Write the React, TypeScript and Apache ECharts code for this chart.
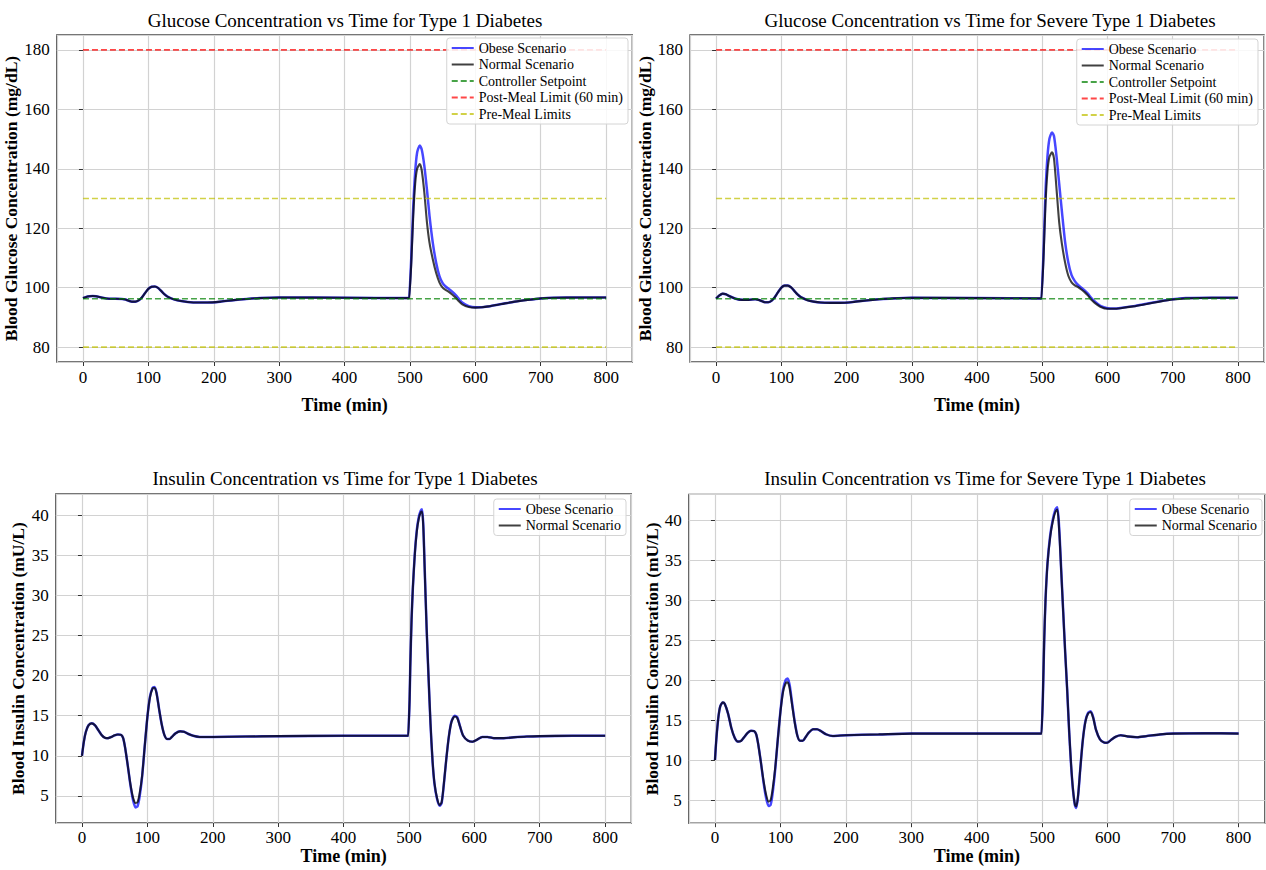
import React, { useEffect, useRef } from 'react';
import * as echarts from 'echarts';

// ---------- data ----------
const TIME_START = 0;
const TIME_END = 800;
const SETPOINT = 96.3;
const POST_MEAL_LIMIT = 180;
const PRE_MEAL_LOW = 80;
const PRE_MEAL_HIGH = 130;

const g1Time = [0, 5, 10, 15, 20, 30, 40, 50, 60, 65, 70, 75, 80, 85, 90, 95, 100, 105, 110, 115, 120, 125, 130, 140, 150, 160, 175, 190, 210, 230, 250, 270, 300, 400, 499, 500, 502, 505, 508, 511, 515, 518, 522, 526, 530, 535, 540, 545, 550, 555, 560, 565, 570, 575, 580, 590, 600, 610, 620, 640, 660, 680, 700, 720, 760, 800];
const g1Obese = [96.5, 96.9, 97.1, 97.2, 97.1, 96.6, 96.3, 96.3, 96.2, 96.0, 95.6, 95.3, 95.3, 95.7, 96.7, 98.2, 99.6, 100.3, 100.4, 99.9, 98.8, 97.7, 96.9, 96.0, 95.5, 95.2, 95.0, 95.0, 95.3, 95.8, 96.2, 96.5, 96.7, 96.6, 96.5, 96.5, 110, 127, 139, 145.5, 147.8, 146.5, 141, 133, 124, 115, 108.5, 104, 101.5, 100.3, 99.5, 98.6, 97.5, 96.2, 95.0, 93.8, 93.4, 93.4, 93.7, 94.5, 95.3, 95.9, 96.4, 96.6, 96.7, 96.7];
const g1Normal = [96.5, 96.9, 97.1, 97.2, 97.1, 96.6, 96.3, 96.3, 96.2, 96.0, 95.6, 95.3, 95.3, 95.7, 96.7, 98.2, 99.6, 100.3, 100.4, 99.9, 98.8, 97.7, 96.9, 96.0, 95.5, 95.2, 95.0, 95.0, 95.3, 95.8, 96.2, 96.5, 96.7, 96.6, 96.5, 96.5, 108, 124, 135, 140, 141.6, 139.5, 132, 122, 115, 109.5, 105, 101.8, 100.0, 99.2, 98.5, 97.6, 96.6, 95.4, 94.4, 93.5, 93.3, 93.4, 93.7, 94.5, 95.3, 95.9, 96.4, 96.6, 96.7, 96.7];

const g2Time = g1Time;
const g2Obese = [96.3, 97.4, 98.0, 97.8, 97.2, 96.3, 95.9, 95.9, 96.1, 95.9, 95.5, 95.1, 95.1, 95.6, 96.8, 98.5, 100.0, 100.7, 100.7, 100.1, 98.9, 97.7, 96.8, 95.8, 95.3, 95.0, 94.9, 94.9, 95.2, 95.7, 96.1, 96.4, 96.6, 96.5, 96.4, 96.4, 112, 132, 144, 150, 152.2, 151, 144, 135, 126, 115.5, 108.5, 104.2, 102.2, 100.9, 100.0, 99.1, 98.0, 96.6, 95.5, 93.8, 93.1, 93.0, 93.2, 93.8, 94.6, 95.4, 96.1, 96.5, 96.6, 96.6];
const g2Normal = [96.3, 97.4, 98.0, 97.8, 97.2, 96.3, 95.9, 95.9, 96.1, 95.9, 95.5, 95.1, 95.1, 95.6, 96.8, 98.5, 100.0, 100.7, 100.7, 100.1, 98.9, 97.7, 96.8, 95.8, 95.3, 95.0, 94.9, 94.9, 95.2, 95.7, 96.1, 96.4, 96.6, 96.5, 96.4, 96.4, 110, 128, 139, 144, 145.5, 143.5, 133, 122, 115, 108.5, 104, 101.8, 100.8, 100.2, 99.4, 98.5, 97.4, 96.0, 95.0, 93.5, 92.9, 92.9, 93.1, 93.7, 94.5, 95.3, 96.0, 96.4, 96.6, 96.6];

const i1Time = [0, 3, 6, 10, 15, 20, 25, 30, 35, 40, 45, 50, 55, 60, 63, 66, 70, 74, 78, 82, 85, 88, 92, 96, 100, 104, 108, 111, 114, 118, 122, 126, 130, 134, 138, 143, 150, 156, 162, 170, 180, 200, 250, 300, 400, 499, 500, 501, 502, 504, 506, 509, 512, 515, 518, 520, 522, 524, 527, 530, 533, 536, 539, 543, 547, 550, 553, 557, 561, 565, 570, 574, 578, 583, 590, 597, 604, 612, 620, 630, 645, 660, 680, 700, 750, 800];
const i1Normal = [10.0, 11.8, 13.0, 13.8, 14.05, 13.8, 13.2, 12.6, 12.25, 12.2, 12.35, 12.55, 12.65, 12.6, 12.2, 11.0, 8.8, 6.5, 4.8, 4.1, 4.2, 5.2, 7.5, 11.2, 14.8, 17.3, 18.4, 18.5, 17.8, 15.8, 13.9, 12.6, 12.1, 12.1, 12.4, 12.8, 13.05, 13.0, 12.75, 12.5, 12.35, 12.35, 12.4, 12.45, 12.5, 12.5, 12.5, 17.0, 21.0, 27.0, 31.0, 35.2, 38.0, 39.6, 40.4, 40.5, 38.5, 33.5, 26.0, 19.8, 14.0, 9.5, 6.6, 4.7, 3.85, 4.2, 6.2, 9.5, 12.4, 14.2, 14.9, 14.7, 13.7, 12.5, 11.9, 11.75, 12.0, 12.35, 12.35, 12.2, 12.2, 12.3, 12.4, 12.45, 12.5, 12.5];
const i1Obese = [10.0, 11.8, 13.0, 13.8, 14.05, 13.8, 13.2, 12.6, 12.25, 12.2, 12.35, 12.55, 12.65, 12.6, 12.2, 11.0, 8.8, 6.4, 4.5, 3.55, 3.7, 4.8, 7.4, 11.2, 14.8, 17.4, 18.5, 18.6, 17.9, 15.8, 13.9, 12.6, 12.1, 12.1, 12.4, 12.8, 13.05, 13.0, 12.75, 12.5, 12.35, 12.35, 12.4, 12.45, 12.5, 12.5, 12.5, 17.0, 21.0, 27.0, 31.0, 35.3, 38.2, 39.8, 40.6, 40.8, 38.7, 33.6, 26.0, 19.7, 13.9, 9.4, 6.5, 4.6, 3.75, 4.1, 6.1, 9.5, 12.4, 14.3, 15.0, 14.8, 13.7, 12.5, 11.9, 11.75, 12.0, 12.35, 12.35, 12.2, 12.2, 12.3, 12.4, 12.45, 12.5, 12.5];

const i2Time = [0, 2, 5, 8, 12, 15, 20, 25, 30, 35, 40, 45, 50, 55, 60, 63, 66, 70, 74, 78, 82, 85, 88, 92, 96, 100, 104, 108, 111, 114, 118, 122, 126, 130, 134, 138, 143, 150, 156, 162, 170, 180, 200, 250, 300, 400, 499, 500, 501, 503, 505, 508, 512, 516, 520, 523, 526, 529, 532, 535, 538, 541, 544, 547, 550, 552, 555, 558, 562, 566, 570, 574, 578, 582, 588, 594, 599, 605, 612, 620, 630, 645, 660, 680, 700, 750, 800];
const i2Normal = [10.0, 12.5, 15.2, 16.7, 17.2, 17.0, 15.8, 14.0, 12.8, 12.3, 12.4, 12.9, 13.4, 13.65, 13.6, 13.2, 12.0, 9.8, 7.5, 5.7, 4.8, 5.0, 6.3, 9.0, 12.6, 16.0, 18.5, 19.6, 19.7, 19.0, 16.8, 14.6, 13.0, 12.4, 12.4, 12.8, 13.4, 13.85, 13.85, 13.6, 13.2, 13.0, 13.1, 13.2, 13.3, 13.3, 13.3, 13.3, 18.0, 25.0, 30.0, 34.5, 37.8, 39.8, 41.0, 41.3, 38.5, 33.5, 28.5, 23.5, 18.9, 13.8, 9.5, 6.3, 4.4, 4.2, 5.8, 8.8, 12.5, 14.8, 15.8, 16.0, 15.2, 13.8, 12.6, 12.2, 12.15, 12.5, 12.9, 13.1, 12.95, 12.85, 13.0, 13.2, 13.3, 13.35, 13.3];
const i2Obese = [10.0, 12.5, 15.2, 16.7, 17.2, 17.0, 15.8, 14.0, 12.8, 12.3, 12.4, 12.9, 13.4, 13.65, 13.6, 13.2, 12.0, 9.8, 7.3, 5.3, 4.25, 4.4, 5.8, 8.8, 12.6, 16.1, 18.8, 20.0, 20.2, 19.4, 17.0, 14.7, 13.0, 12.4, 12.4, 12.8, 13.4, 13.85, 13.85, 13.6, 13.2, 13.0, 13.1, 13.2, 13.3, 13.3, 13.3, 13.3, 18.0, 25.0, 30.0, 34.6, 38.0, 40.0, 41.3, 41.6, 38.8, 33.7, 28.6, 23.5, 18.9, 13.7, 9.4, 6.2, 4.3, 4.0, 5.7, 8.8, 12.5, 14.9, 15.9, 16.1, 15.3, 13.8, 12.6, 12.2, 12.15, 12.5, 12.9, 13.1, 12.95, 12.85, 13.0, 13.2, 13.3, 13.35, 13.3];

const titles = [
  'Glucose Concentration vs Time for Type 1 Diabetes',
  'Glucose Concentration vs Time for Severe Type 1 Diabetes',
  'Insulin Concentration vs Time for Type 1 Diabetes',
  'Insulin Concentration vs Time for Severe Type 1 Diabetes',
];
const xName = 'Time (min)';
const glucoseYName = 'Blood Glucose Concentration (mg/dL)';
const insulinYName = 'Blood Insulin Concentration (mU/L)';
const OBESE = 'Obese Scenario';
const NORMAL = 'Normal Scenario';
const SETP = 'Controller Setpoint';
const POST = 'Post-Meal Limit (60 min)';
const PRE = 'Pre-Meal Limits';

// ---------- styles ----------
const FONT = '"Liberation Serif", "Times New Roman", Times, serif';
const BLUE = 'rgba(0,0,255,0.72)';
const BLACK = 'rgba(0,0,0,0.75)';
const GREEN = 'rgba(0,128,0,0.72)';
const RED = 'rgba(255,0,0,0.72)';
const YELLOW = 'rgba(191,191,0,0.72)';

const zip = (t: number[], v: number[]) => t.map((x, i) => [x, v[i]]);

type Panel = {
  title: string;
  grid: { left: number; top: number; width: number; height: number };
  yMin: number;
  yMax: number;
  ySplit: number;
  yName: string;
  t: number[];
  obese: number[];
  normal: number[];
  refs: boolean;
  titleX: number;
  titleY: number;
  legendRight: number;
  legendTop: number;
  xNameGap: number;
  yNameGap: number;
  xLabelMargin: number;
};

const panels: Panel[] = [
  {
    title: titles[0], grid: { left: 56.8, top: 35, width: 575.5, height: 327 },
    yMin: 75, yMax: 185, ySplit: 5, yName: glucoseYName,
    t: g1Time, obese: g1Obese, normal: g1Normal, refs: true,
    titleX: 345, titleY: 20, legendRight: 638, legendTop: 38, xNameGap: 34, yNameGap: 27, xLabelMargin: 7,
  },
  {
    title: titles[1], grid: { left: 690, top: 35, width: 574, height: 327 },
    yMin: 75, yMax: 185, ySplit: 5, yName: glucoseYName,
    t: g2Time, obese: g2Obese, normal: g2Normal, refs: true,
    titleX: 990, titleY: 20, legendRight: 8, legendTop: 39, xNameGap: 34, yNameGap: 26, xLabelMargin: 7,
  },
  {
    title: titles[2], grid: { left: 55.8, top: 494, width: 575.5, height: 329 },
    yMin: 1.6, yMax: 42.7, ySplit: 8, yName: insulinYName,
    t: i1Time, obese: i1Obese, normal: i1Normal, refs: false,
    titleX: 345, titleY: 478, legendRight: 640, legendTop: 499, xNameGap: 24, yNameGap: 29, xLabelMargin: 6,
  },
  {
    title: titles[3], grid: { left: 688.8, top: 494.4, width: 576, height: 328.8 },
    yMin: 2.1, yMax: 43.2, ySplit: 8, yName: insulinYName,
    t: i2Time, obese: i2Obese, normal: i2Normal, refs: false,
    titleX: 985, titleY: 478, legendRight: 4, legendTop: 499, xNameGap: 24, yNameGap: 27, xLabelMargin: 6,
  },
];

function buildOption() {
  const grid: any[] = [];
  const xAxis: any[] = [];
  const yAxis: any[] = [];
  const series: any[] = [];
  const legend: any[] = [];
  const graphic: any[] = [];

  const tickStyle = { show: true, length: 4, lineStyle: { color: '#333', width: 1 } };
  const splitStyle = { show: true, lineStyle: { color: '#d2d2d2', width: 1.2 } };

  panels.forEach((p, i) => {
    grid.push({
      left: p.grid.left, top: p.grid.top, width: p.grid.width, height: p.grid.height,
      show: true, borderColor: '#4a4a4a', borderWidth: 1.4, backgroundColor: 'transparent',
      containLabel: false,
    });
    xAxis.push({
      type: 'value', gridIndex: i, min: -40, max: 840, splitNumber: 8,
      name: xName, nameLocation: 'middle', nameGap: p.xNameGap,
      nameTextStyle: { fontFamily: FONT, fontSize: 18, fontWeight: 'bold', color: '#000' },
      axisLine: { show: false },
      axisTick: tickStyle,
      axisLabel: { fontFamily: FONT, fontSize: 17, color: '#000', margin: p.xLabelMargin, showMinLabel: false, showMaxLabel: false },
      splitLine: splitStyle,
    });
    yAxis.push({
      type: 'value', gridIndex: i, min: p.yMin, max: p.yMax, splitNumber: p.ySplit,
      name: p.yName, nameLocation: 'middle', nameGap: p.yNameGap, nameRotate: 90,
      nameTextStyle: { fontFamily: FONT, fontSize: 17.5, fontWeight: 'bold', color: '#000' },
      axisLine: { show: false },
      axisTick: tickStyle,
      axisLabel: { fontFamily: FONT, fontSize: 17, color: '#000', margin: 7, showMinLabel: false, showMaxLabel: false },
      splitLine: splitStyle,
    });

    const base = { type: 'line', xAxisIndex: i, yAxisIndex: i, symbol: 'none', showSymbol: false, animation: false, silent: true };
    series.push({ ...base, name: OBESE, data: zip(p.t, p.obese), smooth: 0.25, lineStyle: { color: BLUE, width: 2.5 }, itemStyle: { color: BLUE } });
    series.push({ ...base, name: NORMAL, data: zip(p.t, p.normal), smooth: 0.25, lineStyle: { color: BLACK, width: 2.1 }, itemStyle: { color: BLACK } });
    if (p.refs) {
      const dash = [6, 3];
      series.push({ ...base, name: SETP, data: [[TIME_START, SETPOINT], [TIME_END, SETPOINT]], lineStyle: { color: GREEN, width: 1.6, type: dash }, itemStyle: { color: GREEN } });
      series.push({ ...base, name: POST, data: [[TIME_START, POST_MEAL_LIMIT], [TIME_END, POST_MEAL_LIMIT]], lineStyle: { color: RED, width: 1.6, type: dash }, itemStyle: { color: RED } });
      series.push({ ...base, name: PRE, data: [[TIME_START, PRE_MEAL_LOW], [TIME_END, PRE_MEAL_LOW]], lineStyle: { color: YELLOW, width: 1.6, type: dash }, itemStyle: { color: YELLOW } });
      series.push({ ...base, name: PRE, data: [[TIME_START, PRE_MEAL_HIGH], [TIME_END, PRE_MEAL_HIGH]], lineStyle: { color: YELLOW, width: 1.6, type: dash }, itemStyle: { color: YELLOW } });
    }

    legend.push({
      orient: 'vertical', right: p.legendRight, top: p.legendTop,
      data: p.refs ? [OBESE, NORMAL, SETP, POST, PRE] : [OBESE, NORMAL],
      itemWidth: 22, itemHeight: 14, itemGap: 2.5,
      padding: [3, 5, 3, 4],
      backgroundColor: 'rgba(255,255,255,0.85)', borderColor: '#d4d4d4', borderWidth: 1, borderRadius: 3,
      itemStyle: { opacity: 0 },
      textStyle: { fontFamily: FONT, fontSize: 14, color: '#000', lineHeight: 14 },
      selectedMode: false,
    });

    graphic.push({
      type: 'text', x: p.titleX, y: p.titleY, silent: true,
      style: { text: p.title, font: `19px ${FONT}`, fill: '#000', textAlign: 'center', textVerticalAlign: 'middle' },
    });
  });

  return {
    animation: false,
    backgroundColor: '#ffffff',
    grid, xAxis, yAxis, series, legend, graphic,
  };
}

export default function App() {
  const ref = useRef<HTMLDivElement>(null);
  useEffect(() => {
    if (!ref.current) return;
    const chart = echarts.init(ref.current, null, { renderer: 'svg' });
    chart.setOption(buildOption() as any);
    return () => chart.dispose();
  }, []);
  return (
    <div
      ref={ref}
      style={{ position: 'absolute', left: 0, top: 0, width: 1266, height: 870, background: '#fff' }}
    />
  );
}
